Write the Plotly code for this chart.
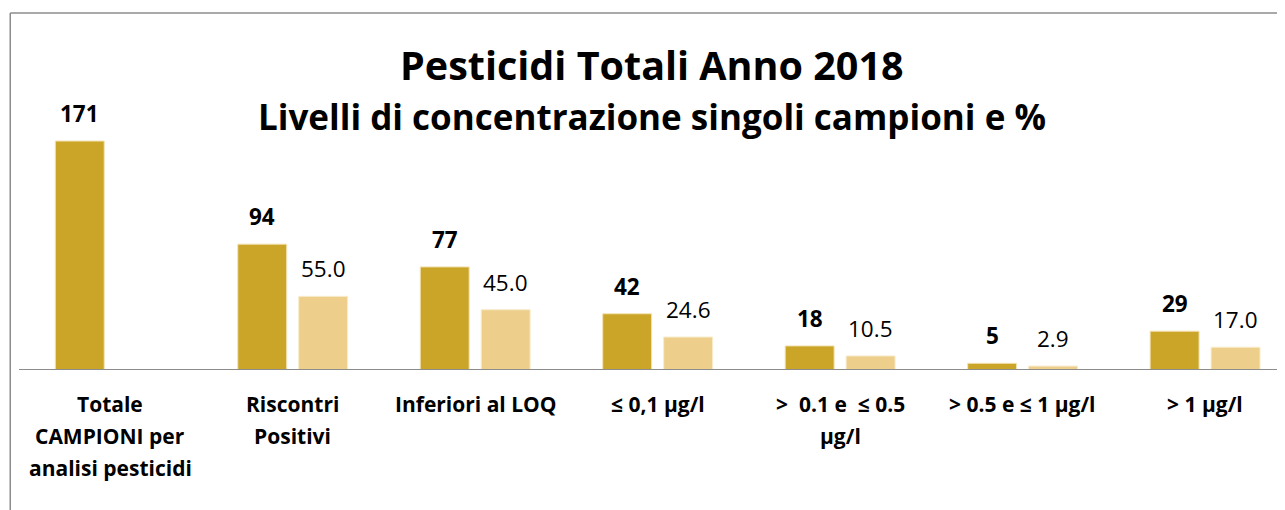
import plotly.graph_objects as go

# categories (multi-line tick labels use <br>)
categories = [
    "Totale<br>CAMPIONI per<br>analisi pesticidi",
    "Riscontri<br>Positivi",
    "Inferiori al LOQ",
    "≤ 0,1 µg/l",
    ">\u00a0\u00a00.1 e\u00a0\u00a0≤ 0.5<br>µg/l",
    "> 0.5 e ≤ 1 µg/l",
    "> 1 µg/l",
]
campioni = [171, 94, 77, 42, 18, 5, 29]
percentuale = [None, 55.0, 45.0, 24.6, 10.5, 2.9, 17.0]

title = "Pesticidi Totali Anno 2018"
subtitle = "Livelli di concentrazione singoli campioni e %"

FONT = "Open Sans"
DARK = "#CBA527"
LIGHT = "#EDCF8B"
GREY = "#8C8C8C"

W, H = 1285, 510
ML, MR, MT, MB = 10.75, 8, 20, 148
plot_w = W - ML - MR
plot_h = H - MT - MB

x_idx = list(range(len(categories)))

fig = go.Figure()
fig.add_trace(go.Bar(x=x_idx, y=campioni, marker=dict(color=DARK, line=dict(color="#F3E3B5", width=1))))
fig.add_trace(go.Bar(x=x_idx, y=percentuale, marker=dict(color=LIGHT, line=dict(color="#F8EBCB", width=1))))

annotations = []
# value labels above the bars
for i, v in enumerate(campioni):
    annotations.append(dict(x=i, y=v, xref="x", yref="y", text=f"<b>{v}</b>", showarrow=False,
                            xshift=-30.5, yshift=10, yanchor="bottom",
                            font=dict(family=FONT, size=22.5, color="#000")))
for i, v in enumerate(percentuale):
    if v is None:
        continue
    annotations.append(dict(x=i, y=v, xref="x", yref="y", text=f"{v:.1f}", showarrow=False,
                            xshift=30.5, yshift=10, yanchor="bottom",
                            font=dict(family=FONT, size=22.5, color="#000")))

# category labels, one annotation per line so the line spacing can follow the original
for i, lab in enumerate(categories):
    for k, line in enumerate(lab.split("<br>")):
        annotations.append(dict(x=i, y=0, xref="x", yref="y", text=f"<b>{line}</b>", showarrow=False,
                                yanchor="middle", yshift=-(34 + 32 * k),
                                font=dict(family=FONT, size=21, color="#000")))

annotations.append(dict(x=0.5, y=1.0, xref="paper", yref="paper", text=f"<b>{title}</b>",
                        showarrow=False, yanchor="middle", yshift=-37,
                        font=dict(family=FONT, size=39.5, color="#000")))
annotations.append(dict(x=0.5, y=1.0, xref="paper", yref="paper", text=f"<b>{subtitle}</b>",
                        showarrow=False, yanchor="middle", yshift=-88,
                        font=dict(family=FONT, size=35, color="#000")))

bx = (2 - ML) / plot_w
by = 1 + (MT - 5) / plot_h

fig.update_layout(
    width=W, height=H,
    margin=dict(l=ML, r=MR, t=MT, b=MB),
    barmode="group", bargap=0.332, bargroupgap=0.197,
    showlegend=False,
    paper_bgcolor="white", plot_bgcolor="white",
    annotations=annotations,
    xaxis=dict(range=[-0.5, 6.438], showticklabels=False, showgrid=False, zeroline=False,
               showline=False, ticks=""),
    yaxis=dict(range=[0, 255.4], visible=False, showgrid=False, zeroline=False),
    shapes=[
        # baseline axis
        dict(type="line", xref="paper", yref="y", x0=0, x1=1.0, y0=0, y1=0,
             line=dict(color=GREY, width=2)),
        # chart border (only left and top edges fall inside the frame)
        dict(type="line", xref="paper", yref="paper", x0=bx, x1=bx, y0=-1, y1=by,
             line=dict(color=GREY, width=1.5)),
        dict(type="line", xref="paper", yref="paper", x0=bx, x1=1.1, y0=by, y1=by,
             line=dict(color=GREY, width=1.5)),
    ],
)

fig.write_html("out.html")
